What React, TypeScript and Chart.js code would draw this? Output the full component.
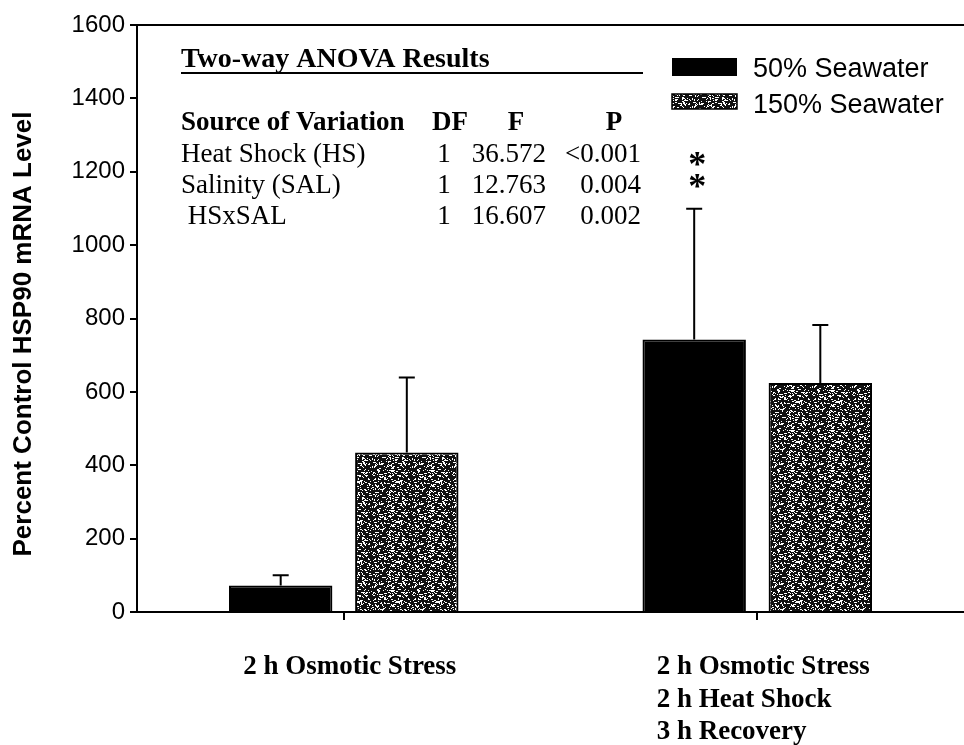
import React, { useEffect, useRef } from 'react';
import { Chart, registerables } from 'chart.js';

Chart.register(...registerables);

// ---------- data ----------
const categories: string[][] = [
  ['2 h Osmotic Stress'],
  ['2 h Osmotic Stress', '2 h Heat Shock', '3 h Recovery'],
];
const seriesNames = ['50% Seawater', '150% Seawater'];
const seawater50 = [72, 743];
const seawater50Err = [28, 356];
const seawater150 = [435, 624];
const seawater150Err = [204, 158];
const yMin = 0;
const yMax = 1600;
const yStep = 200;
const yTitle = 'Percent Control HSP90 mRNA Level';
const starValues = [1235, 1175]; // asterisks above 50% bar of second group
const starCategory = 1;

const anovaTitle = 'Two-way ANOVA Results';
const anovaHeader = ['Source of Variation', 'DF', 'F', 'P'];
const anovaSources = ['Heat Shock (HS)', 'Salinity (SAL)', ' HSxSAL'];
const anovaDF = ['1', '1', '1'];
const anovaF = ['36.572', '12.763', '16.607'];
const anovaP = ['<0.001', '0.004', '0.002'];

const SANS = "'Liberation Sans', Arial, sans-serif";
const SERIF = "'Liberation Serif', 'Times New Roman', serif";

function makeSpeckle(): CanvasPattern | string {
  const c = document.createElement('canvas');
  c.width = 40;
  c.height = 40;
  const g = c.getContext('2d');
  if (!g) return '#444';
  g.fillStyle = '#111';
  g.fillRect(0, 0, 40, 40);
  g.fillStyle = '#fff';
  for (let j = 0; j < 40; j++) {
    for (let i = 0; i < 40; i++) {
      let h = (i * 374761393 + j * 668265263) | 0;
      h = (h ^ (h >>> 13)) * 1274126177;
      h = h ^ (h >>> 16);
      const v = ((h >>> 0) % 1000) / 1000;
      if (v < 0.2) g.fillRect(i, j, v < 0.06 ? 2 : 1, 1);
    }
  }
  return g.createPattern(c, 'repeat') || '#444';
}

export default function App() {
  const ref = useRef<HTMLCanvasElement | null>(null);

  useEffect(() => {
    document.body.style.margin = '0';
    const canvas = ref.current;
    if (!canvas) return;
    const speckle = makeSpeckle();
    const errs = [seawater50Err, seawater150Err];

    const overlay = {
      id: 'overlay',
      afterDatasetsDraw(chart: any) {
        const ctx = chart.ctx;
        const ys = chart.scales.y;
        ctx.save();
        ctx.strokeStyle = '#000';
        ctx.lineWidth = 2;
        chart.data.datasets.forEach((ds: any, di: number) => {
          const meta = chart.getDatasetMeta(di);
          meta.data.forEach((el: any, i: number) => {
            const top = ys.getPixelForValue(ds.data[i] + errs[di][i]);
            ctx.beginPath();
            ctx.moveTo(el.x, el.y);
            ctx.lineTo(el.x, top);
            ctx.moveTo(el.x - 8, top);
            ctx.lineTo(el.x + 8, top);
            ctx.stroke();
          });
        });
        ctx.restore();
      },
      afterDraw(chart: any) {
        const ctx = chart.ctx;
        const ys = chart.scales.y;
        const xs = chart.scales.x;
        const area = chart.chartArea;
        ctx.save();
        ctx.fillStyle = '#000';
        ctx.strokeStyle = '#000';

        // top frame line
        ctx.lineWidth = 2;
        const yTop = ys.getPixelForValue(yMax);
        ctx.beginPath();
        ctx.moveTo(area.left, yTop);
        ctx.lineTo(area.right, yTop);
        ctx.stroke();

        // y title
        ctx.save();
        ctx.translate(24, 334);
        ctx.rotate(-Math.PI / 2);
        ctx.font = `bold 26px ${SANS}`;
        ctx.textAlign = 'center';
        ctx.textBaseline = 'middle';
        ctx.fillText(yTitle, 0, 0);
        ctx.restore();

        // x category labels (left-aligned block centred on tick)
        ctx.font = `bold 27px ${SERIF}`;
        ctx.textAlign = 'left';
        ctx.textBaseline = 'alphabetic';
        categories.forEach((lines, i) => {
          const x = xs.getPixelForValue(i);
          const w = Math.max(...lines.map((l) => ctx.measureText(l).width));
          lines.forEach((l, k) => {
            ctx.fillText(l, x - w / 2 + 6, 674 + k * 32.5);
          });
        });

        // asterisks
        const meta0 = chart.getDatasetMeta(0);
        const sx = meta0.data[starCategory].x + 3;
        ctx.font = `bold 36px ${SERIF}`;
        ctx.textAlign = 'center';
        starValues.forEach((v) => {
          ctx.fillText('*', sx, ys.getPixelForValue(v) + 17);
        });

        // legend
        ctx.fillStyle = '#000';
        ctx.fillRect(672, 58, 65, 18);
        ctx.fillStyle = speckle as any;
        ctx.fillRect(672, 94, 65, 15);
        ctx.lineWidth = 1.5;
        ctx.strokeRect(672, 94, 65, 15);
        ctx.fillStyle = '#000';
        ctx.font = `27px ${SANS}`;
        ctx.textAlign = 'left';
        ctx.fillText(seriesNames[0], 753, 77);
        ctx.fillText(seriesNames[1], 753, 113);

        // ANOVA table
        ctx.font = `bold 28px ${SERIF}`;
        ctx.fillText(anovaTitle, 181, 67);
        ctx.lineWidth = 2;
        ctx.beginPath();
        ctx.moveTo(181, 73);
        ctx.lineTo(643, 73);
        ctx.stroke();

        ctx.font = `bold 27px ${SERIF}`;
        ctx.textAlign = 'left';
        ctx.fillText(anovaHeader[0], 181, 130);
        ctx.textAlign = 'center';
        ctx.fillText(anovaHeader[1], 450, 130);
        ctx.fillText(anovaHeader[2], 516, 130);
        ctx.fillText(anovaHeader[3], 614, 130);

        ctx.font = `27px ${SERIF}`;
        const rowY = [162, 193, 224];
        anovaSources.forEach((s, r) => {
          ctx.textAlign = 'left';
          ctx.fillText(s, 181, rowY[r]);
          ctx.textAlign = 'center';
          ctx.fillText(anovaDF[r], 444, rowY[r]);
          ctx.textAlign = 'right';
          ctx.fillText(anovaF[r], 546, rowY[r]);
          ctx.fillText(anovaP[r], 641, rowY[r]);
        });
        ctx.restore();
      },
    };

    const chart = new Chart(canvas, {
      type: 'bar',
      data: {
        labels: categories as any,
        datasets: [
          {
            label: seriesNames[0],
            data: seawater50,
            backgroundColor: '#000',
            borderColor: '#000',
            borderWidth: 2,
            categoryPercentage: 0.61,
            barPercentage: 0.82,
          },
          {
            label: seriesNames[1],
            data: seawater150,
            backgroundColor: speckle as any,
            borderColor: '#000',
            borderWidth: 2,
            categoryPercentage: 0.61,
            barPercentage: 0.82,
          },
        ],
      },
      options: {
        responsive: false,
        animation: false,
        devicePixelRatio: 1,
        events: [],
        layout: { padding: { top: 25, right: 0, left: 0, bottom: 0 } },
        plugins: {
          legend: { display: false },
          tooltip: { enabled: false },
          title: { display: false },
        },
        scales: {
          x: {
            type: 'category',
            offset: true,
            grid: {
              display: true,
              drawOnChartArea: false,
              drawTicks: true,
              tickLength: 8,
              offset: false,
              color: '#000',
              lineWidth: 2,
            },
            border: { display: true, color: '#000', width: 2 },
            ticks: { display: false },
            afterFit: (s: any) => {
              s.height = 133;
            },
          },
          y: {
            min: yMin,
            max: yMax,
            grid: {
              display: true,
              drawOnChartArea: false,
              drawTicks: true,
              tickLength: 7,
              color: '#000',
              lineWidth: 2,
            },
            border: { display: true, color: '#000', width: 2 },
            ticks: {
              stepSize: yStep,
              padding: 5,
              color: '#000',
              font: { family: SANS, size: 24 },
              callback: (v: any) => String(v),
            },
            afterFit: (s: any) => {
              s.width = 137;
            },
          },
        },
      },
      plugins: [overlay],
    });
    return () => chart.destroy();
  }, []);

  return (
    <div style={{ position: 'absolute', left: 0, top: 0, width: 964, height: 745 }}>
      <canvas ref={ref} width={964} height={745} style={{ display: 'block' }} />
    </div>
  );
}
